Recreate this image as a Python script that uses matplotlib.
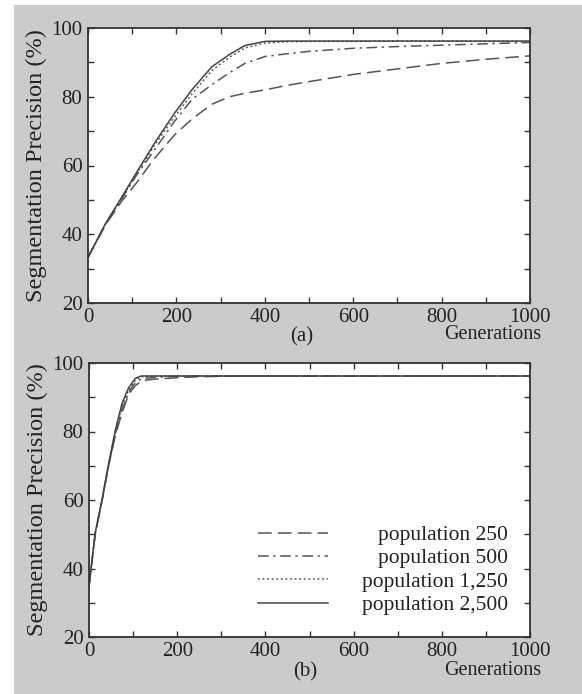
import matplotlib
matplotlib.use("Agg")
import matplotlib.pyplot as plt
from matplotlib.patches import Rectangle
from matplotlib.ticker import MultipleLocator

# ---------------- data ----------------
gen_a = [0, 40, 75, 110, 150, 195, 235, 280, 320, 355, 400, 450, 500, 600, 700, 800, 900, 1000]
p2500_a = [33.3, 43.2, 50.5, 58.0, 66.4, 75.1, 82.0, 88.7, 92.3, 94.9, 96.1, 96.2, 96.2, 96.2, 96.2, 96.2, 96.2, 96.2]
p1250_a = [33.3, 43.0, 50.3, 57.6, 65.8, 74.0, 80.8, 87.6, 91.5, 94.2, 95.6, 96.0, 96.1, 96.1, 96.2, 96.2, 96.1, 96.1]
p500_a = [33.3, 43.0, 50.0, 57.2, 64.5, 72.7, 79.2, 83.5, 87.0, 89.7, 91.7, 92.5, 93.2, 94.1, 94.6, 95.0, 95.4, 95.8]
p250_a = [33.3, 42.8, 49.4, 55.0, 62.0, 68.8, 73.5, 77.8, 80.0, 81.0, 82.0, 83.3, 84.4, 86.5, 88.1, 89.7, 90.9, 91.9]

gen_b = [0, 14, 30, 45, 60, 75, 90, 105, 118, 130, 150, 175, 200, 250, 300, 400, 500, 600, 700, 800, 900, 1000]
p2500_b = [34.8, 50.4, 60.5, 71.0, 80.5, 88.3, 92.8, 95.5, 96.2, 96.2, 96.2, 96.2, 96.2, 96.2, 96.2, 96.2, 96.2, 96.2, 96.2, 96.2, 96.2, 96.2]
p1250_b = [34.8, 50.2, 60.3, 70.7, 80.0, 87.5, 92.2, 95.0, 96.0, 96.1, 96.2, 96.2, 96.2, 96.2, 96.2, 96.2, 96.2, 96.2, 96.2, 96.2, 96.2, 96.2]
p500_b = [34.8, 50.0, 60.0, 70.5, 79.5, 86.5, 91.5, 94.3, 95.3, 95.6, 95.8, 96.0, 96.1, 96.2, 96.2, 96.2, 96.2, 96.2, 96.2, 96.2, 96.2, 96.2]
p250_b = [34.8, 50.0, 60.0, 70.3, 79.0, 85.5, 90.9, 93.4, 94.6, 95.0, 95.3, 95.5, 95.7, 96.0, 96.1, 96.2, 96.2, 96.2, 96.2, 96.2, 96.2, 96.2]

labels = ["population 250", "population 500", "population 1,250", "population 2,500"]
x_ticks = [0, 200, 400, 600, 800, 1000]
y_ticks = [20, 40, 60, 80, 100]

# ---------------- style ----------------
plt.rcParams['font.family'] = ['Liberation Serif', 'DejaVu Serif']
GREY_BG = '#cbcbcb'
LINE_C = '#555555'
SPINE_C = '#333333'
TEXT_C = '#222222'
styles = [
    dict(color=LINE_C, lw=1.1, dashes=(9, 4)),
    dict(color=LINE_C, lw=1.1, dashes=(7, 3, 1.5, 3)),
    dict(color=LINE_C, lw=1.1, dashes=(1.2, 1.8)),
    dict(color='#444444', lw=1.1, linestyle='-'),
]

fig = plt.figure(figsize=(5.82, 6.94), dpi=100, facecolor='white')
fig.patches.append(Rectangle((14 / 582, 0), 1 - 14 / 582, 1 - 5 / 694,
                             transform=fig.transFigure, facecolor=GREY_BG,
                             edgecolor='none', zorder=-10))

ax_a = fig.add_axes([88 / 582, 1 - 303 / 694, 442 / 582, 275 / 694])
ax_b = fig.add_axes([89 / 582, 1 - 637 / 694, 441 / 582, 274 / 694])


def style_axes(ax):
    ax.set_facecolor('white')
    ax.set_xlim(0, 1000)
    ax.set_ylim(20, 100)
    ax.set_xticks(x_ticks)
    ax.set_yticks(y_ticks)
    ax.xaxis.set_minor_locator(MultipleLocator(100))
    ax.yaxis.set_minor_locator(MultipleLocator(10))
    for s in ax.spines.values():
        s.set_color(SPINE_C)
        s.set_linewidth(1.3)
    ax.tick_params(which='both', direction='in', top=True, right=True,
                   length=4, width=1.0, color=SPINE_C)
    ax.tick_params(axis='x', which='major', labelsize=15, pad=3.5, labelcolor=TEXT_C)
    ax.tick_params(axis='y', which='major', labelsize=15, pad=4, labelcolor=TEXT_C)
    ax.set_ylabel("Segmentation Precision (%)", fontsize=17.5, color=TEXT_C, labelpad=3)


series_a = [p250_a, p500_a, p1250_a, p2500_a]
series_b = [p250_b, p500_b, p1250_b, p2500_b]

for ys, st, lab in zip(series_a, styles, labels):
    ax_a.plot(gen_a, ys, label=lab, **st)
for ys, st, lab in zip(series_b, styles, labels):
    ax_b.plot(gen_b, ys, label=lab, **st)

for ax in (ax_a, ax_b):
    style_axes(ax)

ax_a.text(1.025, -0.115, "Generations", transform=ax_a.transAxes, ha='right', va='center',
          fontsize=14.5, color=TEXT_C)
ax_a.text(0.484, -0.124, "(a)", transform=ax_a.transAxes, ha='center', va='center',
          fontsize=15, color=TEXT_C)
ax_b.text(1.025, -0.122, "Generations", transform=ax_b.transAxes, ha='right', va='center',
          fontsize=14.5, color=TEXT_C)
ax_b.text(0.490, -0.128, "(b)", transform=ax_b.transAxes, ha='center', va='center',
          fontsize=15, color=TEXT_C)

leg = ax_b.legend(loc='lower right', bbox_to_anchor=(0.950, 0.080), frameon=False,
                  fontsize=15.5, handlelength=3.25, handletextpad=1.58, labelspacing=0.15,
                  borderpad=0.0, borderaxespad=0.0)
for t in leg.get_texts():
    t.set_color(TEXT_C)

# right-align the legend texts
fig.canvas.draw()
renderer = fig.canvas.get_renderer()
widths = [t.get_window_extent(renderer).width for t in leg.get_texts()]
wmax = max(widths)
for t, w in zip(leg.get_texts(), widths):
    t.set_position((wmax - w, 0))

fig.savefig("out.png", dpi=100, facecolor=fig.get_facecolor())
